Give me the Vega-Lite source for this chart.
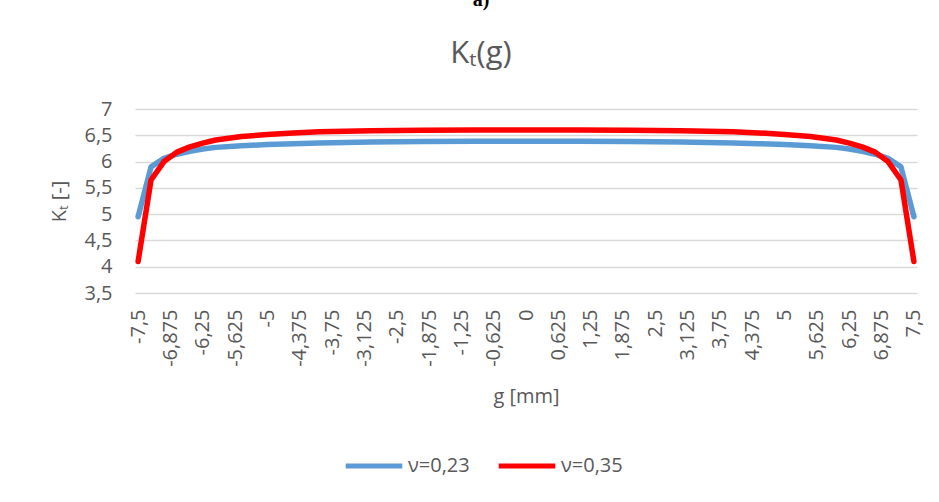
{
  "$schema": "https://vega.github.io/schema/vega-lite/v6.json",
  "autosize": {"type": "none"},
  "width": 782,
  "height": 184,
  "padding": {"left": 135, "top": 109, "right": 22, "bottom": 209},
  "background": "white",
  "title": {
    "text": "a)",
    "subtitle": "Kₜ(g)",
    "font": "Liberation Serif",
    "fontWeight": "bold",
    "fontSize": 20,
    "color": "#000000",
    "subtitleFont": "Open Sans",
    "subtitleFontSize": 31,
    "subtitleColor": "#595959",
    "subtitlePadding": 29,
    "anchor": "middle",
    "frame": "group",
    "dx": -45,
    "offset": 30
  },
  "data": {
    "values": [
      {"g": -7.5, "Kt": 4.95, "series": "ν=0,23"},
      {"g": -7.25, "Kt": 5.9, "series": "ν=0,23"},
      {"g": -7, "Kt": 6.06, "series": "ν=0,23"},
      {"g": -6.75, "Kt": 6.14, "series": "ν=0,23"},
      {"g": -6.5, "Kt": 6.195, "series": "ν=0,23"},
      {"g": -6.25, "Kt": 6.24, "series": "ν=0,23"},
      {"g": -6, "Kt": 6.27, "series": "ν=0,23"},
      {"g": -5.5, "Kt": 6.3, "series": "ν=0,23"},
      {"g": -5, "Kt": 6.325, "series": "ν=0,23"},
      {"g": -4.5, "Kt": 6.34, "series": "ν=0,23"},
      {"g": -4, "Kt": 6.355, "series": "ν=0,23"},
      {"g": -3.5, "Kt": 6.365, "series": "ν=0,23"},
      {"g": -3, "Kt": 6.37, "series": "ν=0,23"},
      {"g": -2, "Kt": 6.38, "series": "ν=0,23"},
      {"g": -1, "Kt": 6.385, "series": "ν=0,23"},
      {"g": 0, "Kt": 6.385, "series": "ν=0,23"},
      {"g": 1, "Kt": 6.385, "series": "ν=0,23"},
      {"g": 2, "Kt": 6.38, "series": "ν=0,23"},
      {"g": 3, "Kt": 6.37, "series": "ν=0,23"},
      {"g": 3.5, "Kt": 6.365, "series": "ν=0,23"},
      {"g": 4, "Kt": 6.355, "series": "ν=0,23"},
      {"g": 4.5, "Kt": 6.34, "series": "ν=0,23"},
      {"g": 5, "Kt": 6.325, "series": "ν=0,23"},
      {"g": 5.5, "Kt": 6.3, "series": "ν=0,23"},
      {"g": 6, "Kt": 6.27, "series": "ν=0,23"},
      {"g": 6.25, "Kt": 6.24, "series": "ν=0,23"},
      {"g": 6.5, "Kt": 6.195, "series": "ν=0,23"},
      {"g": 6.75, "Kt": 6.14, "series": "ν=0,23"},
      {"g": 7, "Kt": 6.06, "series": "ν=0,23"},
      {"g": 7.25, "Kt": 5.9, "series": "ν=0,23"},
      {"g": 7.5, "Kt": 4.95, "series": "ν=0,23"},
      {"g": -7.5, "Kt": 4.1, "series": "ν=0,35"},
      {"g": -7.25, "Kt": 5.65, "series": "ν=0,35"},
      {"g": -7, "Kt": 6.0, "series": "ν=0,35"},
      {"g": -6.75, "Kt": 6.18, "series": "ν=0,35"},
      {"g": -6.5, "Kt": 6.28, "series": "ν=0,35"},
      {"g": -6.25, "Kt": 6.35, "series": "ν=0,35"},
      {"g": -6, "Kt": 6.41, "series": "ν=0,35"},
      {"g": -5.5, "Kt": 6.475, "series": "ν=0,35"},
      {"g": -5, "Kt": 6.515, "series": "ν=0,35"},
      {"g": -4.5, "Kt": 6.545, "series": "ν=0,35"},
      {"g": -4, "Kt": 6.565, "series": "ν=0,35"},
      {"g": -3.5, "Kt": 6.578, "series": "ν=0,35"},
      {"g": -3, "Kt": 6.587, "series": "ν=0,35"},
      {"g": -2, "Kt": 6.596, "series": "ν=0,35"},
      {"g": -1, "Kt": 6.6, "series": "ν=0,35"},
      {"g": 0, "Kt": 6.6, "series": "ν=0,35"},
      {"g": 1, "Kt": 6.6, "series": "ν=0,35"},
      {"g": 2, "Kt": 6.596, "series": "ν=0,35"},
      {"g": 3, "Kt": 6.587, "series": "ν=0,35"},
      {"g": 3.5, "Kt": 6.578, "series": "ν=0,35"},
      {"g": 4, "Kt": 6.565, "series": "ν=0,35"},
      {"g": 4.5, "Kt": 6.545, "series": "ν=0,35"},
      {"g": 5, "Kt": 6.515, "series": "ν=0,35"},
      {"g": 5.5, "Kt": 6.475, "series": "ν=0,35"},
      {"g": 6, "Kt": 6.41, "series": "ν=0,35"},
      {"g": 6.25, "Kt": 6.35, "series": "ν=0,35"},
      {"g": 6.5, "Kt": 6.28, "series": "ν=0,35"},
      {"g": 6.75, "Kt": 6.18, "series": "ν=0,35"},
      {"g": 7, "Kt": 6.0, "series": "ν=0,35"},
      {"g": 7.25, "Kt": 5.65, "series": "ν=0,35"},
      {"g": 7.5, "Kt": 4.1, "series": "ν=0,35"}
    ]
  },
  "mark": {"type": "line", "strokeWidth": 5.5, "strokeCap": "round", "strokeJoin": "round"},
  "encoding": {
    "x": {
      "field": "g",
      "type": "quantitative",
      "scale": {"domain": [-7.56, 7.56], "nice": false, "zero": false},
      "axis": {
        "title": "g [mm]",
        "values": [-7.5, -6.875, -6.25, -5.625, -5, -4.375, -3.75, -3.125, -2.5, -1.875, -1.25, -0.625, 0, 0.625, 1.25, 1.875, 2.5, 3.125, 3.75, 4.375, 5, 5.625, 6.25, 6.875, 7.5],
        "labelExpr": "replace(toString(datum.value), '.', ',')",
        "labelAngle": 270,
        "labelPadding": 16,
        "labelOverlap": false,
        "labelFlush": false,
        "grid": false,
        "domain": false,
        "ticks": false,
        "titlePadding": 20
      }
    },
    "y": {
      "field": "Kt",
      "type": "quantitative",
      "scale": {"domain": [3.5, 7], "nice": false, "zero": false},
      "axis": {
        "title": "Kₜ [-]",
        "values": [3.5, 4, 4.5, 5, 5.5, 6, 6.5, 7],
        "labelExpr": "replace(toString(datum.value), '.', ',')",
        "labelPadding": 23,
        "grid": true,
        "gridColor": "#d9d9d9",
        "gridWidth": 1.5,
        "domain": false,
        "ticks": false,
        "titlePadding": 14
      }
    },
    "color": {
      "field": "series",
      "type": "nominal",
      "scale": {"domain": ["ν=0,23", "ν=0,35"], "range": ["#5B9BD5", "#FF0000"]},
      "legend": {
        "title": null,
        "orient": "none",
        "direction": "horizontal",
        "legendX": 208,
        "legendY": 326,
        "symbolType": "stroke",
        "symbolSize": 3200,
        "symbolStrokeWidth": 5,
        "labelOffset": 3,
        "columnPadding": 18,
        "labelFont": "Open Sans",
        "labelFontSize": 20,
        "labelColor": "#595959"
      }
    }
  },
  "config": {
    "view": {"stroke": null},
    "axis": {
      "labelFont": "Open Sans",
      "labelFontSize": 20,
      "labelColor": "#595959",
      "titleFont": "Open Sans",
      "titleFontSize": 20,
      "titleFontWeight": "normal",
      "titleColor": "#595959"
    }
  }
}
